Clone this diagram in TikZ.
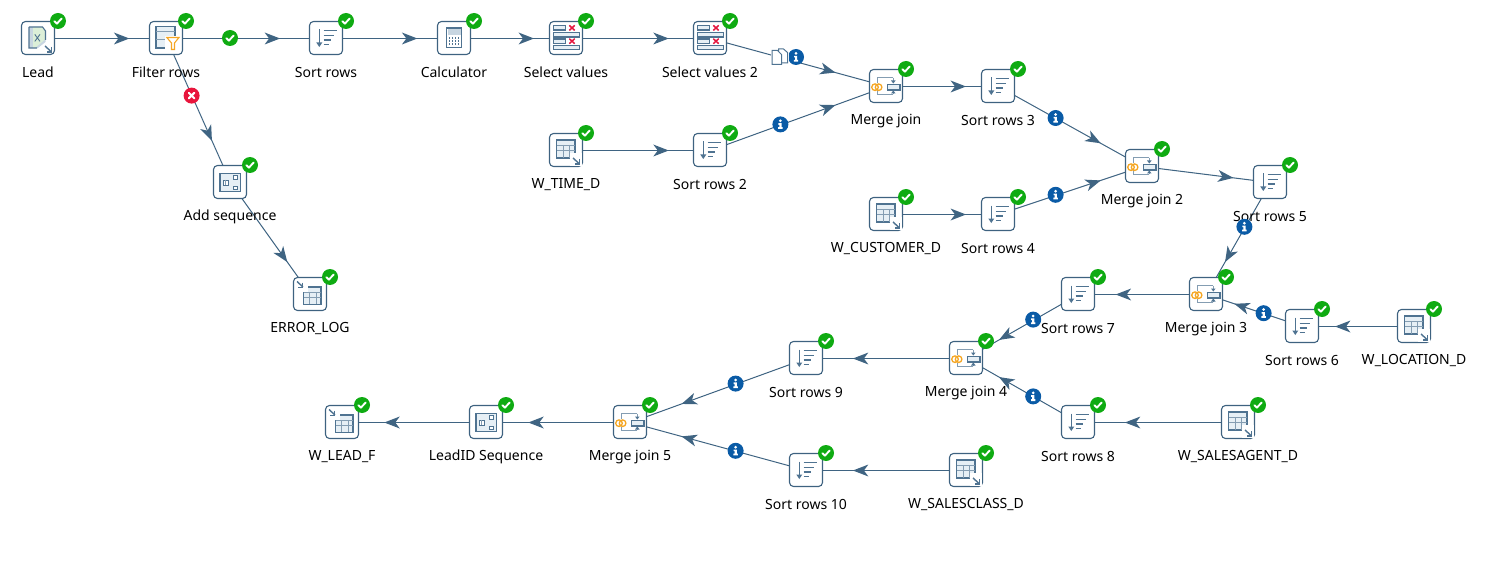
\documentclass[tikz,border=0pt]{standalone}
\usepackage{fontspec}
\setmainfont{Noto Sans}
\usetikzlibrary{backgrounds,decorations.markings,calc}
\definecolor{linecol}{HTML}{3F6482}
\definecolor{boxcol}{HTML}{3E6280}
\definecolor{iconcol}{HTML}{4F7391}
\definecolor{iconfill}{HTML}{E6EFF5}
\definecolor{okgreen}{HTML}{0FAB12}
\definecolor{errred}{HTML}{E8153C}
\definecolor{infoblue}{HTML}{0A5BA6}
\definecolor{amber}{HTML}{F5A623}
\definecolor{crossred}{HTML}{E5173F}
\definecolor{xlgreen}{HTML}{DCEFD8}
\tikzset{
  stepbox/.style={draw=boxcol,fill=white,line width=1.1pt,rounded corners=4pt,minimum size=33pt,inner sep=0pt},
  steplabel/.style={font=\fontsize{14}{16}\selectfont,text=black,inner sep=0pt,anchor=center},
  flow/.style={draw=linecol,line width=1pt,postaction={decorate},decoration={markings,
    mark=at position .71 with {\fill[linecol] (0,0)--(-15.5,-6)--(-11,0)--(-15.5,6)--cycle;}}},
  okbadge/.style={circle,fill=okgreen,minimum size=16pt,inner sep=0pt,path picture={
    \begin{scope}[shift={(path picture bounding box.center)}]
    \draw[white,line width=1.9pt,line cap=round,line join=round] (-3.6,0.2)--(-1.1,2.6)--(3.6,-2.4);
    \end{scope}}},
  errbadge/.style={circle,fill=errred,minimum size=16pt,inner sep=0pt,path picture={
    \begin{scope}[shift={(path picture bounding box.center)}]
    \draw[white,line width=2.1pt,line cap=round] (-2.7,-2.7)--(2.7,2.7) (-2.7,2.7)--(2.7,-2.7);
    \end{scope}}},
  infobadge/.style={circle,fill=infoblue,minimum size=16pt,inner sep=0pt,path picture={
    \begin{scope}[shift={(path picture bounding box.center)}]
    \fill[white] (0,-3.6) circle (1.5);
    \fill[white] (-2,-1.2)--(1.2,-1.2)--(1.2,2.8)--(2.2,2.8)--(2.2,4.6)--(-2.2,4.6)--(-2.2,2.8)--(-1,2.8)--(-1,0.4)--(-2,0.4)--cycle;
    \end{scope}}},
  ic/.style={draw=iconcol,line width=1pt},
  icb/.style={draw=iconcol,line width=1.4pt,fill=iconfill},
  icthin/.style={draw=iconcol!70,line width=.7pt},
}
% icons, drawn around the centre of a step
\newcommand\iconSort{%
  \draw[ic,line width=1.1pt] (-6.7,-8.5)--(-6.7,7);
  \fill[iconcol] (-6.7,9)--(-9.7,4.5)--(-3.7,4.5)--cycle;
  \draw[ic,line width=1.1pt] (-2.5,-7.3)--(10.5,-7.3) (-2.5,-2.6)--(7.5,-2.6) (-2.5,2)--(5,2) (-2.5,6.6)--(2.5,6.6);
}
\newcommand\iconCalc{%
  \draw[icb,fill=white] (-7.3,-9.8) rectangle (7.3,9.3);
  \fill[iconfill!80!iconcol] (-6.5,-9) rectangle (6.5,-2.8);
  \foreach \u in {-4.2,-1.4,1.4,4.2} \foreach \v in {0,3,6}
    \fill[iconcol] (\u-.6,\v-.6) rectangle (\u+.6,\v+.6);
}
\newcommand\tablegrid[4]{% x0 y0 x1 y1
  \fill[iconfill] (#1,#2) rectangle (#3,#4);
  \draw[ic,line width=1.2pt] (#1,#2) rectangle (#3,#4);
  \draw[icthin] (#1,#2+5)--(#3,#2+5) (#1,#2+10)--(#3,#2+10)
     (#1+6.3,#2+5)--(#1+6.3,#4) (#1+12.6,#2+5)--(#1+12.6,#4);
}
\newcommand\iconIn{%
  \tablegrid{-9.3}{-10}{9}{8}
  \fill[white] (4,3) rectangle (16,16);
  \draw[ic,line width=1.4pt] (7,8)--(13,13.5);
  \draw[ic,line width=1.4pt] (13.5,9)--(13.5,14)--(8.5,14);
}
\newcommand\iconOut{%
  \tablegrid{-6.5}{-7}{11}{10.3}
  \fill[white] (-14,-14) rectangle (-2,-2);
  \draw[ic,line width=1.4pt] (-13,-12.5)--(-7,-7);
  \draw[ic,line width=1.4pt] (-7.3,-11.5)--(-7.3,-6.5)--(-12.3,-6.5);
}
\newcommand\iconMerge{%
  \draw[icthin] (-8.7,-3)--(-8.7,-8.3)--(7.3,-8.3) (-8.7,4.5)--(-8.7,8.3)--(7.3,8.3);
  \draw[icthin] (7.3,-8.3)--(7.3,-4) (7.3,8.3)--(7.3,5.5);
  \fill[iconcol] (7.3,-2.5)--(5,-5.5)--(9.6,-5.5)--cycle;
  \fill[iconcol] (7.3,4.5)--(5,7.5)--(9.6,7.5)--cycle;
  \draw[icb,line width=1.3pt] (1.3,-1.7) rectangle (14,4);
  \draw[amber,line width=1.3pt] (-11,1.2) circle (3.3) (-7.4,1.2) circle (3.3);
}
\newcommand\iconSelect{%
  \draw[ic,line width=1.3pt,fill=iconfill] (-12.7,-12.3) rectangle (-.3,-8);
  \draw[ic,line width=1.3pt,fill=iconfill] (-12.7,-5.3) rectangle (13.3,-1);
  \draw[ic,line width=1.3pt,fill=iconfill] (-12.7,1) rectangle (-.3,5.3);
  \draw[ic,line width=1.3pt,fill=iconfill] (-12.7,7.3) rectangle (13.3,11.3);
  \draw[crossred,line width=1.5pt] (3.3,-12.6)--(8.7,-7.6) (3.3,-7.6)--(8.7,-12.6)
     (3.3,.7)--(8.7,5.7) (3.3,5.7)--(8.7,.7);
}
\newcommand\iconFilter{%
  \draw[icb] (-10,-11.5) rectangle (9,10);
  \fill[iconcol!70] (-10,-7) rectangle (9,-5.8);
  \fill[iconcol!70] (-10,1) rectangle (9,2.2);
  \fill[white] (-1,-2) rectangle (14,13);
  \draw[amber,fill=white,line width=1.1pt] (.8,-.5)--(13,-.5)--(8.5,5)--(8.5,11.5)--(5.5,11.5)--(5.5,5)--cycle;
}
\newcommand\iconExcel{%
  \fill[iconfill!80!iconcol] (-9,-11)--(4.5,-11)--(7.5,-7)--(7.5,4)--(0,10)--(-9,10)--cycle;
  \fill[xlgreen] (-3,10)--(7.5,1)--(7.5,-7)--(4.5,-11)--(-5,-11)--(-5,10)--cycle;
  \draw[ic,line width=1.1pt] (-9,-11)--(-9,10)--(-1,10) (-9,-11)--(4.5,-11)--(7.5,-7)--(7.5,2);
  \draw[iconcol,line width=.9pt] (-3.2,-3.6)--(2,3.4) (2,-3.6)--(-3.2,3.4);
  \draw[ic,line width=1.4pt] (7,8)--(13,13.5);
  \draw[ic,line width=1.4pt] (13.5,9)--(13.5,14)--(8.5,14);
}
\newcommand\iconSeq{%
  \draw[icb] (-10,-8.3) rectangle (10.7,9.3);
  \draw[ic,line width=.8pt,fill=white] (-7,-2) rectangle (-2,3);
  \draw[icthin] (-5,-2)--(-5,3);
  \draw[ic,line width=.9pt,fill=white] (3.3,-7) rectangle (7,-3);
  \draw[ic,line width=.9pt,fill=white] (3.3,4) rectangle (7,7.7);
}
\newcommand\stepn[5]{%
  \node[stepbox] (#1) at (#2,#3) {};
  \node[steplabel] (#1-label) at (#2,#3+34.6) {#4};
  \begin{scope}[shift={(#2,#3)}]\csname icon#5\endcsname\end{scope}
  \node[okbadge] (#1-ok) at (#2+20,#3-17) {};
}
\begin{document}
\begin{tikzpicture}[x=1pt,y=-1pt]
\useasboundingbox (0,0) rectangle (1490,572);
\stepn{lead}{38}{38}{Lead}{Excel}
\stepn{filter}{166}{38}{Filter rows}{Filter}
\stepn{sorta}{326}{38}{Sort rows}{Sort}
\stepn{calc}{454}{38}{Calculator}{Calc}
\stepn{sela}{566}{38}{Select values}{Select}
\stepn{selb}{710}{38}{Select values 2}{Select}
\stepn{addseq}{230}{182}{Add sequence}{Seq}
\stepn{errlog}{310}{294}{ERROR\_LOG}{Out}
\stepn{mja}{886}{86}{Merge join}{Merge}
\stepn{sortc}{998}{86}{Sort rows 3}{Sort}
\stepn{wtime}{566}{150}{W\_TIME\_D}{In}
\stepn{sortb}{710}{150}{Sort rows 2}{Sort}
\stepn{mjb}{1142}{166}{Merge join 2}{Merge}
\stepn{wcust}{886}{214}{W\_CUSTOMER\_D}{In}
\stepn{sortd}{998}{214}{Sort rows 4}{Sort}
\stepn{sorte}{1270}{182}{Sort rows 5}{Sort}
\stepn{mjc}{1206}{294}{Merge join 3}{Merge}
\stepn{sortg}{1078}{294}{Sort rows 7}{Sort}
\stepn{sortf}{1302}{326}{Sort rows 6}{Sort}
\stepn{wloc}{1414}{326}{W\_LOCATION\_D}{In}
\stepn{mjd}{966}{358}{Merge join 4}{Merge}
\stepn{sorti}{806}{358}{Sort rows 9}{Sort}
\stepn{sorth}{1078}{422}{Sort rows 8}{Sort}
\stepn{wsa}{1238}{422}{W\_SALESAGENT\_D}{In}
\stepn{mje}{630}{422}{Merge join 5}{Merge}
\stepn{sortj}{806}{470}{Sort rows 10}{Sort}
\stepn{wsc}{966}{470}{W\_SALESCLASS\_D}{In}
\stepn{leadid}{486}{422}{LeadID Sequence}{Seq}
\stepn{wlf}{342}{422}{W\_LEAD\_F}{Out}
\begin{pgfonlayer}{background}
\foreach \a/\b in {lead/filter,filter/sorta,sorta/calc,calc/sela,sela/selb,selb/mja,wtime/sortb,sortb/mja,
  mja/sortc,sortc/mjb,wcust/sortd,sortd/mjb,mjb/sorte,sorte/mjc,wloc/sortf,sortf/mjc,mjc/sortg,sortg/mjd,
  wsa/sorth,sorth/mjd,mjd/sorti,sorti/mje,wsc/sortj,sortj/mje,mje/leadid,leadid/wlf,filter/addseq,addseq/errlog}
  \draw[flow] ([shift={(.5,.5)}]\a.center) -- ([shift={(.5,.5)}]\b.center);
\end{pgfonlayer}
% hop badges
\path (filter.center) -- (sorta.center) node[okbadge,pos=.4] (hopok) {};
\path (filter.center) -- (addseq.center) node[errbadge,pos=.4] (hoperr) {};
\foreach \a/\b/\n in {sortb/mja/ia,sortc/mjb/ib,sortd/mjb/ic,sorte/mjc/id,sortf/mjc/ie,sortg/mjd/if,sorth/mjd/ig,sorti/mje/ih,sortj/mje/ii}
  \path (\a.center) -- (\b.center) node[infobadge,pos=.4] (\n) {};
\node[infobadge] (ij) at (796,57) {};
% copy-rows mark
\fill[white] (771,48) rectangle (789,65);
\begin{scope}[shift={(779.5,56.5)}]
  \draw[ic,line width=1pt,fill=white] (-1,-7.5)--(4,-7.5)--(8,-4)--(8,6.5)--(-1,6.5)--cycle;
  \draw[ic,line width=1pt,fill=white] (-7.5,-6)--(-2,-6)--(2,-2)--(2,8)--(-7.5,8)--cycle;
\end{scope}
\end{tikzpicture}
\end{document}
